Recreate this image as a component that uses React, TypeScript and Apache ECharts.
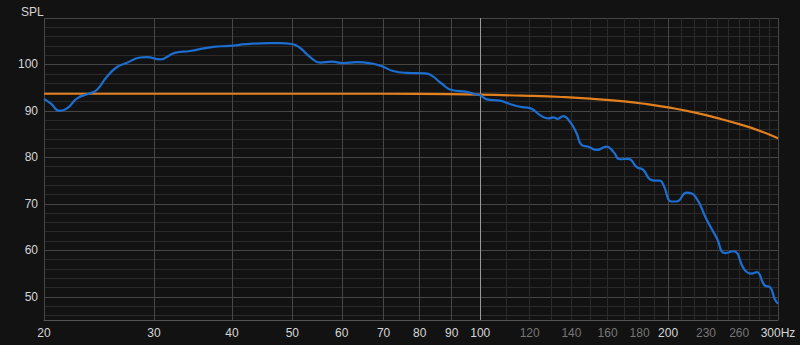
import { useEffect, useRef } from "react";
import * as echarts from "echarts";

// Measured response (blue)
const freqBlue = [
  20, 20.5, 21.2, 21.8, 22.6, 23.7, 24.3, 25.2, 26.15, 27.1, 28.5, 29.2, 30.7, 32.4, 34.3,
  37.35, 39.7, 42.2, 46.0, 47.8, 49.9, 51.4, 53.4, 55.4, 57.8, 60.3, 63.4, 67.0, 69.9, 72.5,
  76.2, 81.6, 83.6, 86.7, 90.0, 95.1, 98.1, 99.9, 102.4, 107.6, 111.6, 115.8, 120.2, 124.7,
  128.6, 131, 133, 135.8, 139.2, 142.7, 145.3, 149.0, 153.7, 159.4, 163.4, 167.4, 172.7,
  178.1, 182.5, 187.0, 191, 194.0, 196.5, 202.6, 206.4, 214.1, 221.0, 230.6, 239.2, 246.7,
  254.3, 265.6, 272.2, 277.3, 285.9, 291.2, 296.6, 300,
];
const splBlue = [
  92.6, 91.6, 90.0, 90.6, 92.7, 93.8, 94.5, 97.3, 99.4, 100.3, 101.5, 101.6, 101.1, 102.5, 102.9,
  103.8, 104.0, 104.36, 104.6, 104.6, 104.4, 103.6, 101.6, 100.4, 100.6, 100.3, 100.5, 100.2, 99.5, 98.6,
  98.2, 98.1, 97.6, 95.9, 94.5, 94.1, 93.6, 93.4, 92.5, 92.2, 91.5, 90.9, 90.6, 89.1,
  88.4, 88.6, 88.3, 88.9, 87.7, 85.2, 82.7, 82.3, 81.6, 82.3, 81.2, 79.6, 79.7,
  77.9, 77.3, 75.3, 75.0, 75.0, 74.1, 70.5, 70.5, 72.4, 71.6, 66.6, 62.7, 59.4,
  59.8, 55.7, 55.0, 55.3, 52.4, 52.1, 49.4, 48.5,
];

// Target / model response (orange)
const freqOrange = [20, 60, 80, 100, 120, 135, 150, 170, 185, 200, 220, 240, 260, 280, 300];
const splOrange = [93.7, 93.7, 93.65, 93.5, 93.25, 93.0, 92.65, 92.05, 91.45, 90.75, 89.7, 88.45, 87.15, 85.75, 84.1];

// Axis ticks / labels
const freqMajorLines = [20, 30, 40, 50, 60, 70, 80, 90, 100, 200, 300];
const freqMinorLines = [110, 120, 130, 140, 150, 160, 170, 180, 190, 210, 220, 230, 240, 250, 260, 270, 280, 290];
const freqAccentLines = [100];
const freqLabels = [20, 30, 40, 50, 60, 70, 80, 90, 100, 120, 140, 160, 180, 200, 230, 260, 300];
const freqDimLabels = [120, 140, 160, 180, 230, 260];
const splMajorLines = [50, 60, 70, 80, 90, 100, 110];
const splMinorLines = [46, 48, 52, 54, 56, 58, 62, 64, 66, 68, 72, 74, 76, 78, 82, 84, 86, 88, 92, 94, 96, 98, 102, 104, 106, 108];
const splLabels = [50, 60, 70, 80, 90, 100];

const FONT = "'Liberation Sans', Arial, sans-serif";
const X_MIN = Math.log10(20);
const X_MAX = Math.log10(300);
const Y_MIN = 45;
const Y_MAX = 110;

export default function App() {
  const ref = useRef<HTMLDivElement>(null);

  useEffect(() => {
    if (!ref.current) return;
    const chart = echarts.init(ref.current, null, { renderer: "svg" });
    const lg = (v: number) => Math.log10(v);
    const hz = (v: any) => Math.round(Math.pow(10, Number(v)));

    const baseX = {
      type: "value" as const,
      min: X_MIN,
      max: X_MAX,
      position: "bottom" as const,
      axisLine: { show: false },
      axisTick: { show: false },
      axisLabel: { show: false },
    };
    const baseY = {
      type: "value" as const,
      min: Y_MIN,
      max: Y_MAX,
      position: "left" as const,
      axisLine: { show: false },
      axisTick: { show: false },
      axisLabel: { show: false },
    };

    chart.setOption({
      animation: false,
      backgroundColor: "#121212",
      textStyle: { fontFamily: FONT },
      title: {
        text: "SPL",
        left: 16,
        top: 1,
        textStyle: { color: "#d4d4d4", fontSize: 12, fontWeight: "normal", fontFamily: FONT },
      },
      grid: { left: 44, right: 22, top: 18, bottom: 25 },
      xAxis: [
        {
          ...baseX,
          axisTick: { show: false, customValues: freqMinorLines.map(lg) },
          splitLine: { show: true, lineStyle: { color: "#2a2a2a", width: 1 } },
        },
        {
          ...baseX,
          axisLine: { show: true, lineStyle: { color: "#555555", width: 1 } },
          axisTick: { show: false, customValues: freqMajorLines.map(lg) },
          splitLine: { show: true, lineStyle: { color: "#464646", width: 1 } },
          axisLabel: {
            show: true,
            customValues: freqLabels.map(lg),
            margin: 7,
            fontSize: 12,
            fontFamily: FONT,
            formatter: (v: any) => {
              const f = hz(v);
              return f === 300 ? "300Hz" : String(f);
            },
            color: (v: any) => (freqDimLabels.includes(hz(v)) ? "#767676" : "#d6d6d6"),
          },
        },
        {
          ...baseX,
          axisTick: { show: false, customValues: freqAccentLines.map(lg) },
          splitLine: { show: true, lineStyle: { color: "#9a9a9a", width: 1 } },
        },
      ],
      yAxis: [
        {
          ...baseY,
          axisTick: { show: false, customValues: splMinorLines },
          splitLine: { show: true, lineStyle: { color: "#2a2a2a", width: 1 } },
        },
        {
          ...baseY,
          axisTick: { show: false, customValues: splMajorLines },
          splitLine: { show: true, lineStyle: { color: "#464646", width: 1 } },
          axisLabel: {
            show: true,
            customValues: splLabels,
            margin: 6,
            fontSize: 12,
            fontFamily: FONT,
            color: "#d6d6d6",
          },
        },
      ],
      series: [
        {
          type: "line",
          xAxisIndex: 1,
          yAxisIndex: 1,
          data: freqOrange.map((f, i) => [lg(f), splOrange[i]]),
          showSymbol: false,
          smooth: 0.5,
          lineStyle: { color: "#e2801f", width: 2.2 },
          itemStyle: { color: "#e2801f" },
          z: 3,
        },
        {
          type: "line",
          xAxisIndex: 1,
          yAxisIndex: 1,
          data: freqBlue.map((f, i) => [lg(f), splBlue[i]]),
          showSymbol: false,
          smooth: 0.5,
          lineStyle: { color: "#1c6ed0", width: 2.2 },
          itemStyle: { color: "#1c6ed0" },
          z: 4,
        },
      ],
    });
    return () => chart.dispose();
  }, []);

  return (
    <div
      ref={ref}
      style={{ position: "fixed", left: 0, top: 0, width: 800, height: 345, background: "#121212" }}
    />
  );
}
